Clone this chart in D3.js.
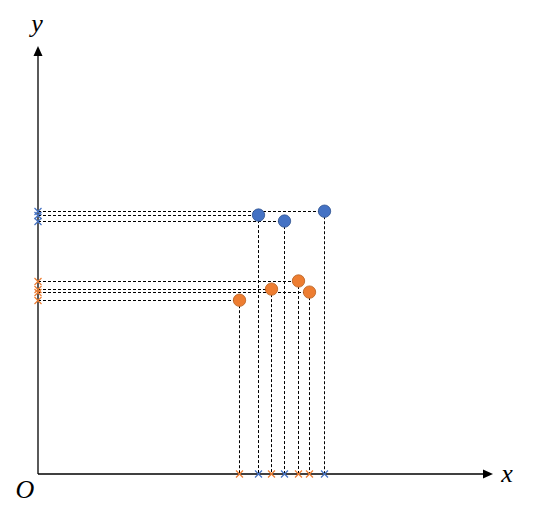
<!DOCTYPE html>
<html><head><meta charset="utf-8">
<script src="https://cdn.jsdelivr.net/npm/d3@7"></script>
<style>body{margin:0;background:#fff;}svg{display:block;}</style>
</head><body>
<svg id="c" width="544" height="507"></svg>
<script>
const blueX = [4.83, 5.40, 6.28];
const blueY = [6.05, 5.91, 6.14];
const orangeX = [4.41, 5.13, 5.71, 5.96];
const orangeY = [4.06, 4.32, 4.51, 4.25];

const svg = d3.select("#c");
const x = d3.scaleLinear().domain([0, 10]).range([38, 493]);
const y = d3.scaleLinear().domain([0, 10]).range([474, 46]);
const px = v => Math.round(v) + 0.5;

const series = [
  {xs: orangeX, ys: orangeY, fill: "#ED7D31", stroke: "#B85F1E", cross: "#ED7D31"},
  {xs: blueX, ys: blueY, fill: "#4472C4", stroke: "#2F528F", cross: "#4472C4"}
];

// axes
svg.append("line").attr("x1", x(0)).attr("y1", y(0)).attr("x2", x(10) - 8).attr("y2", y(0))
  .attr("stroke", "#000").attr("stroke-width", 1.3);
svg.append("line").attr("x1", x(0)).attr("y1", y(0)).attr("x2", x(0)).attr("y2", y(10) + 8)
  .attr("stroke", "#000").attr("stroke-width", 1.3);
svg.append("path").attr("d", `M${x(10)},${y(0)} L${x(10)-10},${y(0)-4.5} L${x(10)-10},${y(0)+4.5} Z`).attr("fill", "#000");
svg.append("path").attr("d", `M${x(0)},${y(10)} L${x(0)-4.5},${y(10)+10} L${x(0)+4.5},${y(10)+10} Z`).attr("fill", "#000");

// dashed guide lines
series.forEach(s => {
  s.xs.forEach((xv, i) => {
    const yv = s.ys[i];
    svg.append("line").attr("x1", x(0)).attr("y1", px(y(yv))).attr("x2", x(xv)).attr("y2", px(y(yv)))
      .attr("stroke", "#000").attr("stroke-width", 1).attr("stroke-dasharray", "3,2");
    svg.append("line").attr("x1", px(x(xv))).attr("y1", y(yv)).attr("x2", px(x(xv))).attr("y2", y(0))
      .attr("stroke", "#000").attr("stroke-width", 1).attr("stroke-dasharray", "3,2");
  });
});

// cross markers on axes
const cs = 3.5;
function cross(cx, cy, col) {
  svg.append("path").attr("d", `M${cx-cs},${cy-cs} L${cx+cs},${cy+cs} M${cx-cs},${cy+cs} L${cx+cs},${cy-cs}`)
    .attr("stroke", col).attr("stroke-width", 1.2).attr("fill", "none");
}
series.forEach(s => {
  s.xs.forEach((xv, i) => {
    cross(px(x(xv)), y(0), s.cross);
    cross(x(0), px(y(s.ys[i])), s.cross);
  });
});

// points
series.forEach(s => {
  svg.selectAll(null).data(s.xs.map((xv, i) => [xv, s.ys[i]])).enter().append("circle")
    .attr("cx", d => px(x(d[0]))).attr("cy", d => y(d[1])).attr("r", 6.2)
    .attr("fill", s.fill).attr("stroke", s.stroke).attr("stroke-width", 0.8);
});

// labels
const lab = (t, lx, ly) => svg.append("text").attr("x", lx).attr("y", ly).text(t)
  .attr("font-family", "'Liberation Serif', serif").attr("font-style", "italic")
  .attr("font-size", 26).attr("text-anchor", "middle").attr("fill", "#000");
lab("y", 37, 32);
lab("x", 507, 482);
lab("O", 25, 498);
</script>
</body></html>
